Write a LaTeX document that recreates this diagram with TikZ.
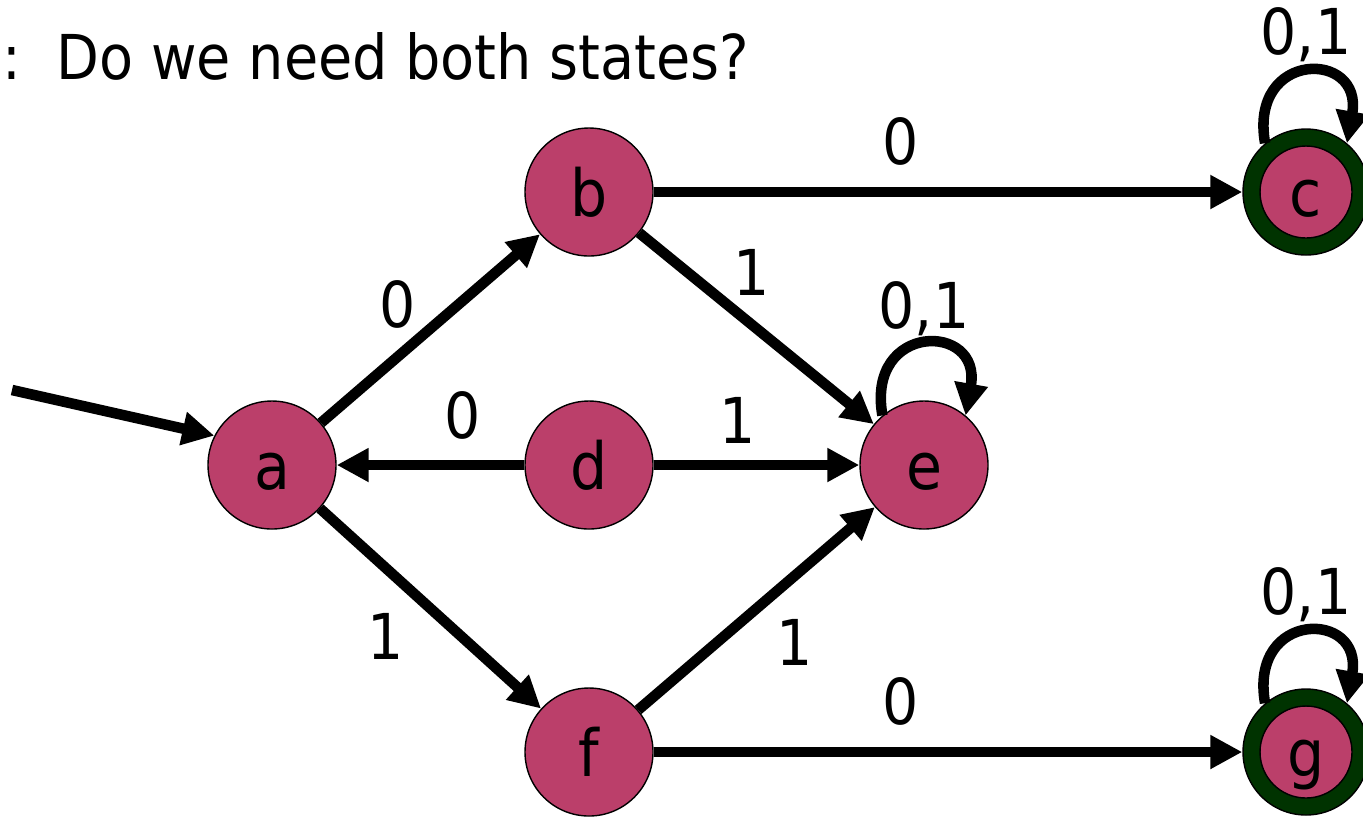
\documentclass[tikz,border=0pt]{standalone}
\usepackage{fontspec}
\setmainfont{DejaVu Sans Condensed}
\usepackage{tikz}
\usetikzlibrary{arrows.meta,positioning}
\definecolor{rose}{HTML}{BB3F6A}
\definecolor{forest}{HTML}{003300}

\begin{document}
\begin{tikzpicture}[>={Triangle[length=3.2mm,width=3.2mm]},
 st/.style={circle,draw=black,line width=.4pt,fill=rose,minimum size=12.8mm,inner sep=0pt,text height=13.7pt,text depth=0pt,font=\fontsize{18.5}{21}\selectfont},
 acc/.style={st,fill=forest,minimum size=12.6mm,path picture={\draw[fill=rose,line width=.4pt] (path picture bounding box.center) circle (4.6mm);}},
 tr/.style={->,draw=black,line width=3pt},lb/.style={font=\fontsize{18}{20}\selectfont,inner sep=1mm}]
\useasboundingbox (0,0) rectangle (13.63,-8.16);
\node[anchor=base west,inner sep=0pt,font=\fontsize{17.6}{20}\selectfont] (q) at (0.02,-0.79) {:\ \ Do we need both states?};
\node[st] (a) at (2.72,-4.65) {a};
\node[st] (b) at (5.89,-1.92) {b};
\node[st] (d) at (5.89,-4.65) {d};
\node[st] (f) at (5.89,-7.52) {f};
\node[st] (e) at (9.24,-4.65) {e};
\node[acc] (c) at (13.06,-1.92) {c};
\node[acc] (g) at (13.06,-7.52) {g};
\coordinate (start) at (0.12,-3.9);
\draw[tr] (start)--(a.153);
\draw[tr] (a)--node[lb,pos=.5,above left,yshift=-1.5mm] {0} (b);
\draw[tr] (b)--node[lb,pos=.42,above=1.1mm] {0} (c);
\draw[tr] (b)--node[lb,pos=.48,above=1.4mm] {1} (e);
\draw[tr] (d)--node[lb,pos=.33,above=1mm] {0} (a);
\draw[tr] (d)--node[lb,pos=.41,above=.6mm] {1} (e);
\draw[tr] (a)--node[lb,pos=.45,below left] {1} (f);
\draw[tr] (f)--node[lb,pos=.52,below right] {1} (e);
\draw[tr] (f)--node[lb,pos=.42,above=1.1mm] {0} (g);
% self loops
\draw[tr] (e.130) to[out=100,in=80,distance=9.5mm] node[lb,above,inner sep=.4mm] {0,1} (e.50);
\draw[tr] (c.130) to[out=100,in=80,distance=9.5mm] node[lb,above,inner sep=.6mm] {0,1} (c.50);
\draw[tr] (g.130) to[out=100,in=80,distance=9.5mm] node[lb,above,inner sep=.6mm] {0,1} (g.50);
\end{tikzpicture}
\end{document}
